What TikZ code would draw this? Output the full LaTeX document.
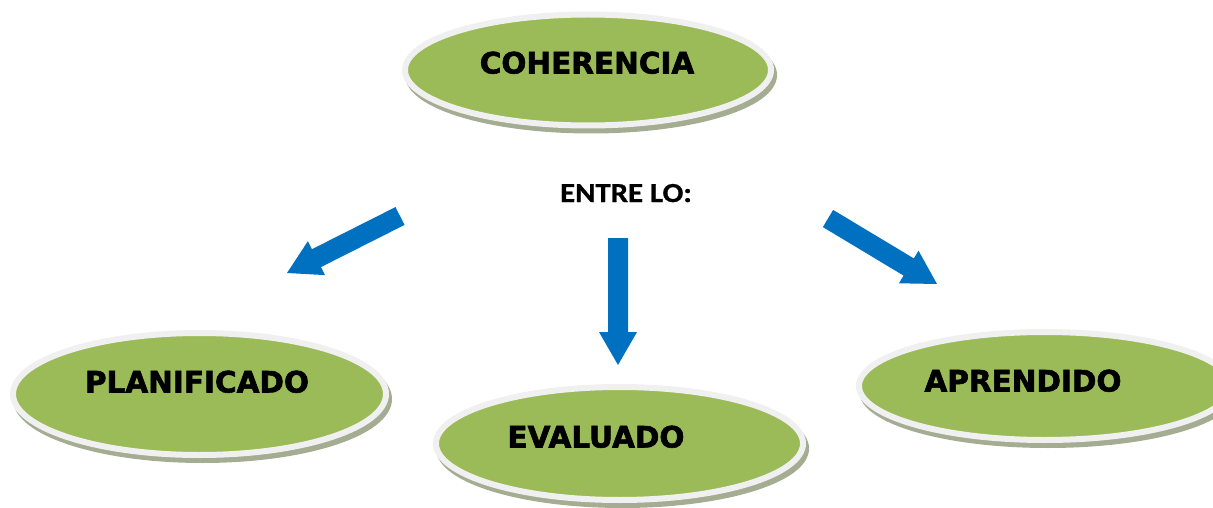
\documentclass[tikz,border=0pt]{standalone}
\usepackage{fontspec}
\usetikzlibrary{calc,shapes.geometric}
\newfontfamily\lblfont{DejaVu Sans Bold}[FakeBold=2]
\newfontfamily\entrefont{Carlito Bold}[FakeBold=0.8]
\definecolor{ovgreen}{HTML}{9BBB59}
\definecolor{ovring}{HTML}{F0F0F0}
\definecolor{ovshadow}{HTML}{A4AC92}
\definecolor{arrblue}{HTML}{0070C0}
\tikzset{
  oval/.style={ellipse, inner sep=0pt, fill=ovgreen, draw=ovring, line width=6pt,
    preaction={fill=ovshadow, draw=ovshadow, transform canvas={shift={(3pt,-5pt)}}}},
  ovaltext/.style={anchor=base, inner sep=0pt, font=\lblfont\fontsize{29.5}{34}\selectfont, text=black},
  entretext/.style={anchor=base, inner sep=0pt, font=\entrefont\fontsize{27.5}{32}\selectfont, xscale=1.12, text=black},
  arrowfill/.style={fill=arrblue}
}
\newcommand\blockarr[2]{%
  \coordinate (#2-b) at ($(#2)!33pt!(#1)$);
  \fill[arrowfill] ($(#1)!10pt!90:(#2)$) -- ($(#2-b)!10pt!90:(#2)$) -- ($(#2-b)!19pt!90:(#2)$)
    -- (#2) -- ($(#2-b)!19pt!-90:(#2)$) -- ($(#2-b)!10pt!-90:(#2)$) -- ($(#1)!10pt!-90:(#2)$) -- cycle;
}
\begin{document}
\begin{tikzpicture}[x=1pt,y=-1pt]
\useasboundingbox (0,0) rectangle (1213,508);
% ovals
\node[oval, minimum width=366pt, minimum height=111pt] (coh) at (588,70) {};
\node[oval, minimum width=373pt, minimum height=122pt] (plan) at (199.5,394) {};
\node[oval, minimum width=367pt, minimum height=113pt] (eval) at (619.5,443.5) {};
\node[oval, minimum width=372pt, minimum height=108pt] (apr) at (1045,386) {};
% labels
\node[ovaltext] (coh-t) at (587,73.5) {COHERENCIA};
\node[ovaltext] (plan-t) at (197,392.5) {PLANIFICADO};
\node[ovaltext] (eval-t) at (596,447.5) {EVALUADO};
\node[ovaltext] (apr-t) at (1023,391.5) {APRENDIDO};
\node[entretext] (entre) at (626,202) {ENTRE LO:};
% arrows
\coordinate (la-t) at (400,216);
\coordinate (la-p) at (287,273);
\coordinate (da-t) at (618,238);
\coordinate (da-p) at (618,365);
\coordinate (ra-t) at (828,218.5);
\coordinate (ra-p) at (937,284);
\blockarr{la-t}{la-p}
\blockarr{da-t}{da-p}
\blockarr{ra-t}{ra-p}
\end{tikzpicture}
\end{document}
